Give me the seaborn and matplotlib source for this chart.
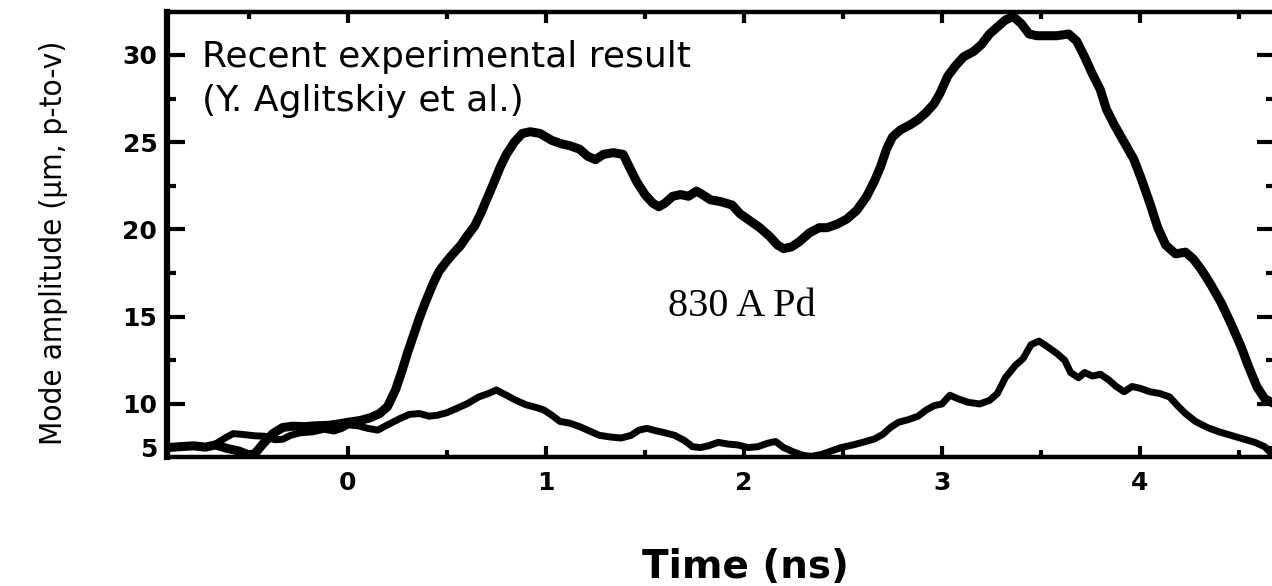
import matplotlib
matplotlib.use("Agg")
import matplotlib.pyplot as plt
from matplotlib import font_manager
import numpy as np
import pandas as pd
import seaborn as sns
from matplotlib.ticker import MultipleLocator, FixedLocator

# Mode amplitude traces (time in ns, amplitude in um peak-to-valley)
t_upper = [-0.91, -0.85, -0.78, -0.72, -0.67, -0.61, -0.55, -0.50, -0.47, -0.43,
           -0.38, -0.33, -0.28, -0.22, -0.16, -0.10, -0.05, 0.00, 0.06, 0.11,
           0.16, 0.20, 0.24, 0.27, 0.30, 0.33, 0.36, 0.39, 0.43, 0.46,
           0.50, 0.53, 0.57, 0.60, 0.64, 0.67, 0.70, 0.73, 0.77, 0.80,
           0.84, 0.88, 0.92, 0.97, 1.03, 1.08, 1.12, 1.17, 1.21, 1.25,
           1.29, 1.34, 1.39, 1.42, 1.46, 1.50, 1.54, 1.57, 1.60, 1.64,
           1.68, 1.72, 1.76, 1.79, 1.83, 1.88, 1.94, 1.98, 2.03, 2.08,
           2.13, 2.17, 2.20, 2.24, 2.28, 2.33, 2.38, 2.42, 2.47, 2.52,
           2.57, 2.62, 2.66, 2.69, 2.72, 2.75, 2.79, 2.84, 2.88, 2.92,
           2.96, 2.99, 3.03, 3.07, 3.11, 3.16, 3.20, 3.24, 3.28, 3.32,
           3.36, 3.40, 3.44, 3.48, 3.53, 3.58, 3.64, 3.68, 3.72, 3.76,
           3.80, 3.83, 3.87, 3.92, 3.97, 4.01, 4.05, 4.09, 4.13, 4.18,
           4.23, 4.27, 4.31, 4.36, 4.41, 4.46, 4.51, 4.55, 4.59, 4.63, 4.68]
amp_upper = [5.0, 5.1, 5.2, 5.05, 5.3, 4.9, 4.6, 4.15, 4.3, 5.4,
             6.6, 7.3, 7.45, 7.4, 7.5, 7.55, 7.7, 7.9, 8.1, 8.4,
             8.9, 9.7, 10.8, 11.8, 12.9, 13.9, 14.9, 15.8, 16.9, 17.6,
             18.2, 18.6, 19.1, 19.6, 20.2, 20.9, 21.7, 22.5, 23.6, 24.3,
             25.0, 25.5, 25.6, 25.5, 25.1, 24.9, 24.8, 24.6, 24.2, 24.0,
             24.3, 24.4, 24.3, 23.6, 22.7, 22.0, 21.5, 21.3, 21.5, 21.9,
             22.0, 21.9, 22.2, 22.0, 21.7, 21.6, 21.4, 20.9, 20.5, 20.1,
             19.6, 19.1, 18.9, 19.0, 19.3, 19.8, 20.1, 20.1, 20.3, 20.6,
             21.1, 21.9, 22.8, 23.6, 24.6, 25.3, 25.7, 26.0, 26.3, 26.7,
             27.2, 27.8, 28.8, 29.4, 29.9, 30.2, 30.6, 31.2, 31.6, 32.0,
             32.2, 31.8, 31.2, 31.1, 31.1, 31.1, 31.2, 30.8, 29.9, 28.9,
             28.0, 26.9, 26.0, 25.0, 24.0, 22.8, 21.5, 20.1, 19.1, 18.6,
             18.7, 18.3, 17.7, 16.8, 15.8, 14.6, 13.3, 12.1, 11.0, 10.3, 10.0]

t_lower = [-0.91, -0.85, -0.78, -0.72, -0.67, -0.62, -0.58, -0.53, -0.47, -0.42,
           -0.37, -0.33, -0.29, -0.24, -0.18, -0.12, -0.07, -0.03, 0.00, 0.05,
           0.10, 0.15, 0.20, 0.26, 0.31, 0.36, 0.41, 0.45, 0.50, 0.55,
           0.60, 0.66, 0.71, 0.75, 0.80, 0.85, 0.90, 0.95, 0.99, 1.03,
           1.07, 1.12, 1.17, 1.22, 1.27, 1.33, 1.38, 1.43, 1.47, 1.51,
           1.56, 1.60, 1.65, 1.70, 1.74, 1.78, 1.82, 1.87, 1.92, 1.97,
           2.02, 2.07, 2.12, 2.16, 2.20, 2.25, 2.30, 2.34, 2.39, 2.44,
           2.49, 2.55, 2.60, 2.66, 2.70, 2.74, 2.78, 2.83, 2.88, 2.92,
           2.96, 3.00, 3.04, 3.08, 3.13, 3.19, 3.24, 3.28, 3.32, 3.37,
           3.41, 3.45, 3.49, 3.53, 3.58, 3.62, 3.65, 3.69, 3.72, 3.76,
           3.80, 3.84, 3.88, 3.92, 3.96, 4.00, 4.05, 4.10, 4.15, 4.19,
           4.23, 4.28, 4.34, 4.40, 4.46, 4.52, 4.58, 4.63, 4.66, 4.68]
amp_lower = [5.0, 5.1, 5.2, 5.0, 5.4, 6.1, 6.6, 6.5, 6.35, 6.3,
             5.9, 5.95, 6.4, 6.7, 6.8, 7.1, 6.9, 7.2, 7.6, 7.5,
             7.2, 7.0, 7.6, 8.3, 8.8, 8.9, 8.6, 8.7, 9.0, 9.5,
             10.0, 10.4, 10.6, 10.8, 10.5, 10.2, 9.9, 9.6, 9.3, 8.7,
             8.0, 7.8, 7.4, 6.9, 6.4, 6.2, 6.1, 6.4, 7.0, 7.2,
             6.9, 6.7, 6.4, 5.8, 5.1, 5.0, 5.2, 5.6, 5.4, 5.3,
             5.0, 5.1, 5.5, 5.7, 5.0, 4.5, 4.1, 4.0, 4.2, 4.6,
             5.0, 5.3, 5.6, 6.0, 6.5, 7.3, 7.9, 8.2, 8.6, 9.3,
             9.8, 10.0, 10.5, 10.3, 10.1, 10.0, 10.2, 10.6, 11.5, 12.2,
             12.6, 13.4, 13.6, 13.3, 12.9, 12.5, 11.8, 11.5, 11.8, 11.6,
             11.7, 11.4, 11.0, 10.7, 11.0, 10.9, 10.7, 10.6, 10.4, 9.8,
             8.9, 8.0, 7.3, 6.8, 6.4, 6.0, 5.6, 5.1, 4.4, 4.0]

x_ticks = [0, 1, 2, 3, 4]
y_ticks = [5, 10, 15, 20, 25, 30]
annotation_lines = ["Recent experimental result", "(Y. Aglitskiy et al.)"]
foil_label = "830 A Pd"
x_title = "Time (ns)"
y_title = "Mode amplitude (\u03bcm, p-to-v)"

# Amplitude axis: linear above 10 um, compressed by half below it
Y_BREAK = 10.0


def amp_forward(v):
    v = np.asarray(v, dtype=float)
    return np.where(v >= Y_BREAK, v, Y_BREAK - (Y_BREAK - v) / 2.0)


def amp_inverse(u):
    u = np.asarray(u, dtype=float)
    return np.where(u >= Y_BREAK, u, Y_BREAK - (Y_BREAK - u) * 2.0)


# narrow face for the long vertical title, if one is installed
installed = font_manager.fontManager.ttflist
names = {f.name for f in installed}
ylabel_font = dict(family=["Liberation Sans", "DejaVu Sans"], fontsize=24)
if "Liberation Sans Narrow" in names:
    ylabel_font = dict(family=["Liberation Sans Narrow", "DejaVu Sans"], fontsize=24.5)
elif any(f.name == "DejaVu Sans" and f.stretch == "condensed" for f in installed):
    ylabel_font = dict(family=["DejaVu Sans"], fontstretch="condensed", fontsize=22.6)

sns.set_style("white")
plt.rcParams["font.family"] = ["DejaVu Sans"]
plt.rcParams["text.color"] = "black"
plt.rcParams["axes.labelcolor"] = "black"
plt.rcParams["xtick.color"] = "black"
plt.rcParams["ytick.color"] = "black"

W, H = 1272, 586
fig = plt.figure(figsize=(W / 100, H / 100), dpi=100)
left_px, right_px, top_px, bottom_px = 167, 1275, 12, 457
ax = fig.add_axes([left_px / W, 1 - bottom_px / H,
                   (right_px - left_px) / W, (bottom_px - top_px) / H])
ax.set_yscale("function", functions=(amp_forward, amp_inverse))

upper = pd.DataFrame({"time": t_upper, "amp": amp_upper})
lower = pd.DataFrame({"time": t_lower, "amp": amp_lower})
line_kw = dict(solid_joinstyle="round", solid_capstyle="round")
sns.lineplot(data=upper, x="time", y="amp", color="black", lw=6.5,
             sort=False, ax=ax, **line_kw)
sns.lineplot(data=lower, x="time", y="amp", color="black", lw=5.0,
             sort=False, ax=ax, **line_kw)

ax.set_xlim(-0.914, 4.682)
ax.set_ylim(3.92, 32.46)

tick_font = dict(fontsize=18, fontweight="bold", color="black")
ax.set_xticks(x_ticks)
ax.set_xticklabels([str(v) for v in x_ticks], **tick_font)
ax.xaxis.set_minor_locator(MultipleLocator(0.5))
ax.yaxis.set_major_locator(FixedLocator(y_ticks))
ax.yaxis.set_minor_locator(FixedLocator([12.5, 17.5, 22.5, 27.5]))
ax.set_yticklabels([str(v) for v in y_ticks], **tick_font)

ax.tick_params(axis="y", which="major", direction="in", length=13, width=3,
               left=True, right=True, pad=7, colors="black")
ax.tick_params(axis="y", which="minor", direction="in", length=6.5, width=3,
               left=True, right=True, colors="black")
ax.tick_params(axis="x", which="major", direction="in", length=8, width=3,
               top=True, bottom=True, pad=10, colors="black")
ax.tick_params(axis="x", which="minor", direction="in", length=5, width=3,
               top=True, bottom=True, colors="black")
# the lowest amplitude tick sits in the compressed band and is drawn short
first_tick = ax.yaxis.get_major_ticks()[0]
first_tick.tick1line.set_markersize(6.5)
first_tick.tick2line.set_markersize(6.5)

for side, lw in (("left", 4.5), ("bottom", 3.2), ("top", 3.2), ("right", 3.2)):
    ax.spines[side].set_visible(True)
    ax.spines[side].set_linewidth(lw)
    ax.spines[side].set_color("black")

ax.set_xlabel(x_title, fontsize=28, fontweight="bold", color="black")
ax.xaxis.set_label_coords((745 - left_px) / (right_px - left_px),
                          (bottom_px - 548) / (bottom_px - top_px))
ax.set_ylabel(y_title, color="black", **ylabel_font)
ax.yaxis.set_label_coords((68 - left_px) / (right_px - left_px),
                          (bottom_px - 243) / (bottom_px - top_px))

ax.text(-0.735, 29.31, annotation_lines[0], fontsize=26, color="black", va="baseline")
ax.text(-0.735, 26.79, annotation_lines[1], fontsize=26, color="black", va="baseline")
ax.text(1.99, 15.6, foil_label, fontsize=29, family=["Liberation Serif"],
        ha="center", va="center", color="black")

fig.savefig("out.png", dpi=100, facecolor="white")
